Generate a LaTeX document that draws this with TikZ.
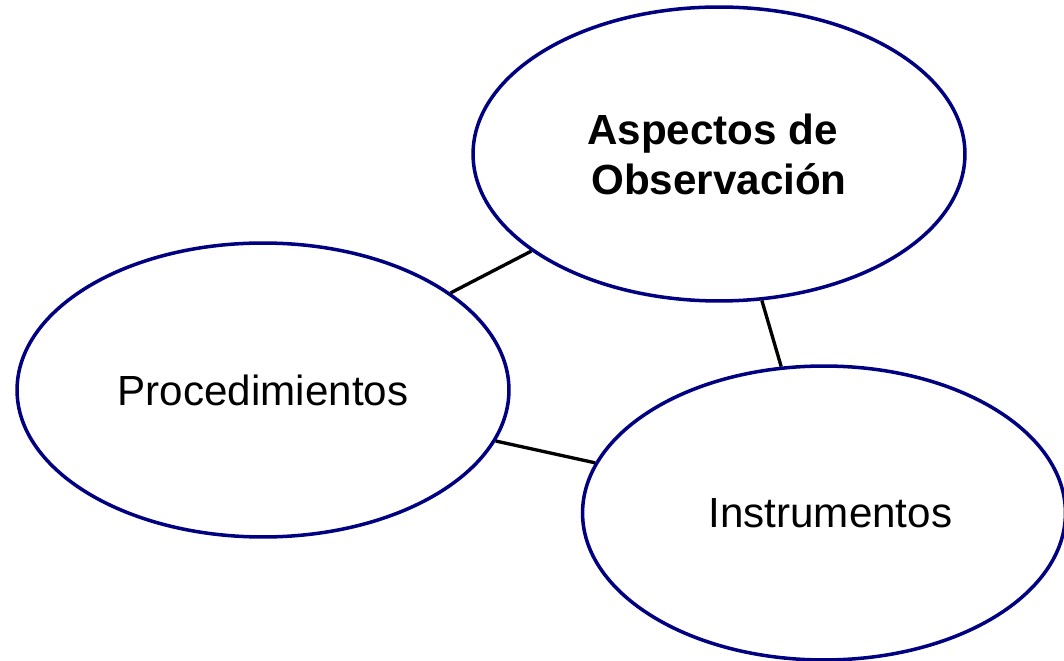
\documentclass[tikz,border=0pt]{standalone}
\usepackage{fontspec}
\setmainfont{Liberation Sans}
\usetikzlibrary{shapes.geometric}
\definecolor{ovalblue}{RGB}{0,0,128}
\tikzset{
	oval/.style={ellipse, draw=ovalblue, line width=2pt, fill=white,
		minimum width=9.84cm, minimum height=5.88cm, inner sep=0pt,
		font=\fontsize{24}{28.5}\selectfont, align=center},
	link/.style={draw=black, line width=1.9pt}
}

\begin{document}
\begin{tikzpicture}[x=0.02cm, y=-0.02cm]
			%%%%% START %%%%%
			
			\useasboundingbox (0, 0) rectangle (1064, 661);
			
			\node[oval] (aspectos) at (719, 154) {\textbf{Aspectos de}\hspace*{0.3em}\\\textbf{Observación}};
			\node[oval] (proced) at (263, 390) {Procedimientos};
			\node[oval, minimum width=9.66cm] (instrum) at (824, 513) {\hspace*{0.3em}Instrumentos};
			
			\draw[link] (proced) -- (aspectos);
			\draw[link] (aspectos) -- (instrum);
			\draw[link] (proced) -- (instrum);
			
			%%%%% END %%%%%
		\end{tikzpicture}
\end{document}
